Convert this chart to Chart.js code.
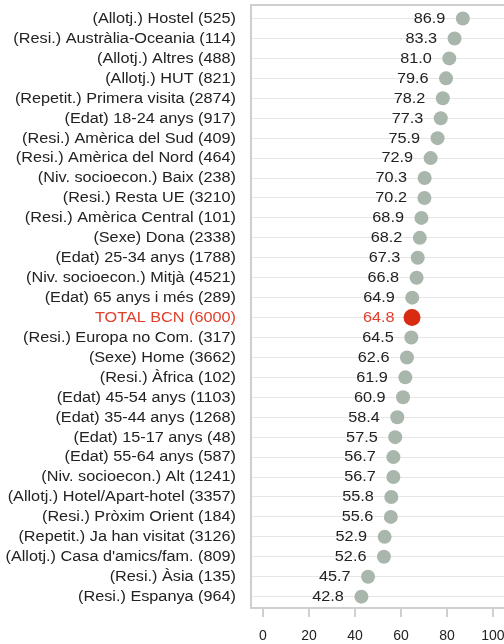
<!DOCTYPE html>
<html>
<head>
<meta charset="utf-8">
<script src="https://cdn.jsdelivr.net/npm/chart.js@4"></script>
<style>
  html, body { margin: 0; padding: 0; background: #fff; overflow: hidden; }
  #wrap { width: 530px; height: 644px; }
</style>
</head>
<body>
<div id="wrap"><canvas id="c"></canvas></div>
<script>
// ─── DADES ────────────────────────────────────────────────────────────────
const categories = [
    '(Allotj.) Hostel (525)',
    '(Resi.) Austràlia-Oceania (114)',
    '(Allotj.) Altres (488)',
    '(Allotj.) HUT (821)',
    '(Repetit.) Primera visita (2874)',
    '(Edat) 18-24 anys (917)',
    '(Resi.) Amèrica del Sud (409)',
    '(Resi.) Amèrica del Nord (464)',
    '(Niv. socioecon.) Baix (238)',
    '(Resi.) Resta UE (3210)',
    '(Resi.) Amèrica Central (101)',
    '(Sexe) Dona (2338)',
    '(Edat) 25-34 anys (1788)',
    '(Niv. socioecon.) Mitjà (4521)',
    '(Edat) 65 anys i més (289)',
    'TOTAL BCN (6000)',
    '(Resi.) Europa no Com. (317)',
    '(Sexe) Home (3662)',
    '(Resi.) Àfrica (102)',
    '(Edat) 45-54 anys (1103)',
    '(Edat) 35-44 anys (1268)',
    '(Edat) 15-17 anys (48)',
    '(Edat) 55-64 anys (587)',
    '(Niv. socioecon.) Alt (1241)',
    '(Allotj.) Hotel/Apart-hotel (3357)',
    '(Resi.) Pròxim Orient (184)',
    '(Repetit.) Ja han visitat (3126)',
    "(Allotj.) Casa d'amics/fam. (809)",
    '(Resi.) Àsia (135)',
    '(Resi.) Espanya (964)'
];
const values = [
    86.9, 83.3, 81.0, 79.6, 78.2, 77.3, 75.9, 72.9, 70.3, 70.2,
    68.9, 68.2, 67.3, 66.8, 64.9, 64.8, 64.5, 62.6, 61.9, 60.9,
    58.4, 57.5, 56.7, 56.7, 55.8, 55.6, 52.9, 52.6, 45.7, 42.8
];
const xTicks = [0, 20, 40, 60, 80, 100];
const totalLabel = 'TOTAL BCN (6000)';

const GREY = '#a8b6ac';
const RED = '#d92b12';
const RED_TEXT = '#e0402c';
const FONT = '14px "Liberation Sans", Arial, sans-serif';
const STRETCH = 1.16; // el text de l'original surt més ample
const isTotal = i => categories[i] === totalLabel;

// ─── PLUGINS ──────────────────────────────────────────────────────────────
const boxPlugin = {
    id: 'box',
    beforeDatasetsDraw(chart) {
        const { ctx, chartArea: a } = chart;
        ctx.save();
        ctx.strokeStyle = '#cfcfcf';
        ctx.lineWidth = 2;
        ctx.strokeRect(a.left, a.top, a.right - a.left + 20, a.bottom - a.top);
        ctx.restore();
    }
};

function stretchedText(ctx, txt, x, y) {
    ctx.save();
    ctx.translate(x, y);
    ctx.scale(STRETCH, 1);
    ctx.fillText(txt, 0, 0);
    ctx.restore();
}

const textLabels = {
    id: 'textLabels',
    afterDatasetsDraw(chart) {
        const { ctx } = chart;
        const meta = chart.getDatasetMeta(0);
        const yScale = chart.scales.y;
        ctx.save();
        ctx.font = FONT;
        ctx.textAlign = 'right';
        ctx.textBaseline = 'middle';
        categories.forEach((c, i) => {
            ctx.fillStyle = isTotal(i) ? RED_TEXT : '#222';
            stretchedText(ctx, c, 236, yScale.getPixelForValue(i) + 0.5);
        });
        meta.data.forEach((pt, i) => {
            ctx.fillStyle = isTotal(i) ? RED_TEXT : '#222';
            stretchedText(ctx, values[i].toFixed(1), pt.x - 17.5, pt.y + 0.5);
        });
        ctx.restore();
    }
};

// ─── GRÀFIC ───────────────────────────────────────────────────────────────
new Chart(document.getElementById('c'), {
    type: 'scatter',
    data: {
        datasets: [{
            data: values.map((v, i) => ({ x: v, y: i })),
            pointRadius: values.map((v, i) => isTotal(i) ? 8.5 : 7),
            pointBackgroundColor: values.map((v, i) => isTotal(i) ? RED : GREY),
            pointBorderWidth: 0,
            pointHoverRadius: 7
        }]
    },
    options: {
        responsive: true,
        maintainAspectRatio: false,
        animation: false,
        layout: { autoPadding: false, padding: { top: 5, left: 0, right: 0, bottom: 0 } },
        plugins: { legend: { display: false }, tooltip: { enabled: false } },
        scales: {
            x: {
                type: 'linear',
                min: -5.2, max: 116.1,
                afterBuildTicks: s => { s.ticks = xTicks.map(v => ({ value: v })); },
                afterFit: s => { s.height = 36; s.paddingLeft = 0; s.paddingRight = 0; },
                border: { display: false },
                grid: { drawOnChartArea: false, color: '#cfcfcf', lineWidth: 2, tickLength: 9 },
                ticks: {
                    color: '#222', padding: 11,
                    font: { size: 14, family: '"Liberation Sans", Arial, sans-serif' }
                }
            },
            y: {
                type: 'linear',
                reverse: true,
                min: -0.68, max: 29.57,
                afterBuildTicks: s => { s.ticks = categories.map((c, i) => ({ value: i })); },
                afterFit: s => { s.width = 251; s.paddingTop = 0; s.paddingBottom = 0; },
                border: { display: false },
                grid: { color: '#e6e6e6', lineWidth: 1, drawTicks: false },
                ticks: { display: false }
            }
        }
    },
    plugins: [boxPlugin, textLabels]
});
</script>
</body>
</html>
